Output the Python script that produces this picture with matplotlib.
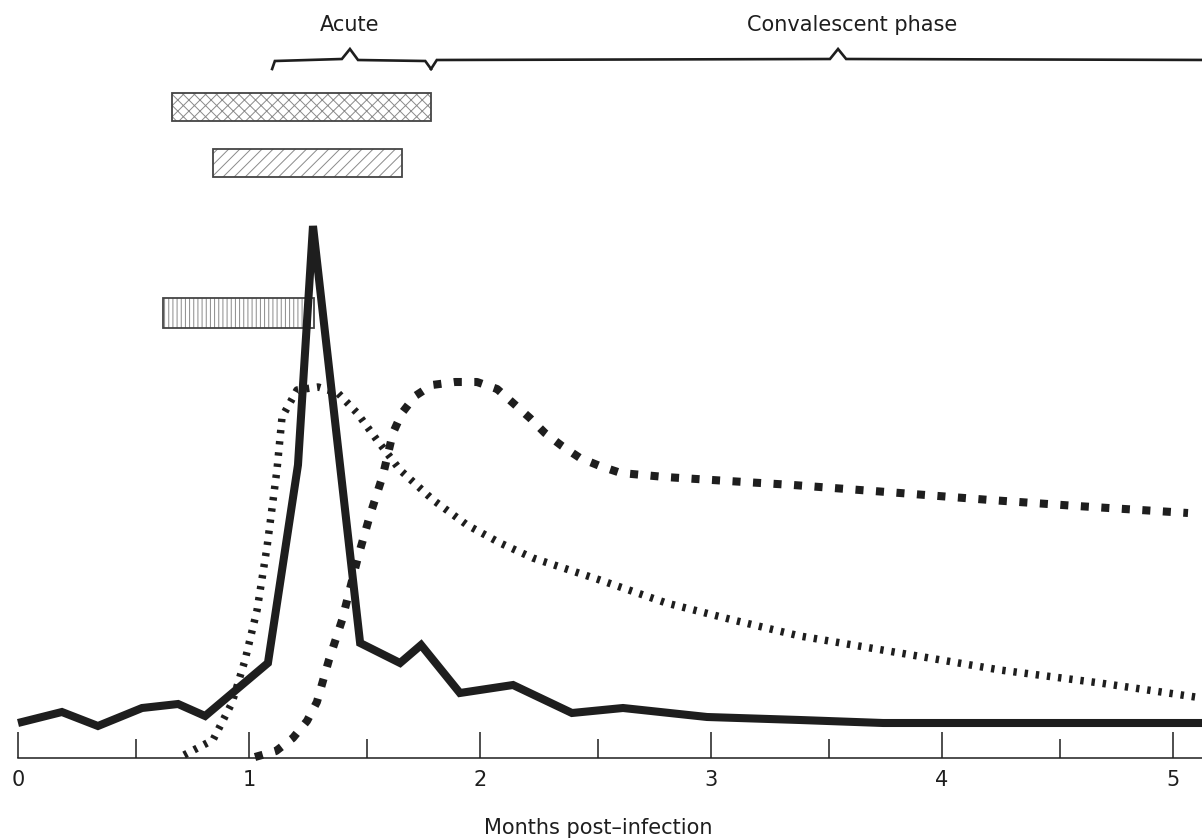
import matplotlib
matplotlib.use('Agg')
import matplotlib.pyplot as plt
from matplotlib.patches import Rectangle

# x = months post-infection, y = relative level (arbitrary units above the axis)
solid_x = [0, 0.19, 0.346, 0.537, 0.693, 0.81, 1.082, 1.212, 1.277, 1.481, 1.654,
           1.745, 1.913, 2.143, 2.398, 2.619, 2.983, 3.385, 3.745, 5.2]
solid_y = [35, 46, 32, 50, 54, 42, 95, 293, 532, 115, 95, 113, 65, 73, 45, 50, 41, 38, 35, 35]

dotted_x = [0.719, 0.844, 0.926, 0.983, 1.035, 1.078, 1.121, 1.143, 1.208, 1.299, 1.385,
            1.468, 1.554, 1.654, 1.797, 1.944, 2.087, 2.229, 2.519, 2.807, 3.095, 3.385,
            3.818, 4.251, 4.684, 5.126]
dotted_y = [3, 18, 55, 98, 148, 211, 288, 341, 368, 371, 365, 345, 318, 288, 258, 233,
            215, 200, 178, 155, 138, 122, 105, 88, 75, 60]

dashed_x = [1.026, 1.117, 1.190, 1.251, 1.294, 1.346, 1.403, 1.472, 1.524, 1.580, 1.623,
            1.662, 1.719, 1.792, 1.892, 1.987, 2.074, 2.143, 2.216, 2.281, 2.355, 2.433,
            2.519, 2.610, 2.801, 3.074, 3.355, 3.818, 4.208, 4.584, 5.065]
dashed_y = [1, 7, 20, 37, 56, 98, 138, 201, 243, 283, 325, 345, 362, 373, 376, 376, 369,
            355, 340, 325, 312, 300, 292, 285, 281, 277, 273, 265, 258, 252, 245]

# hatched duration bars
bar_start = [0.667, 0.844, 0.628]
bar_end = [1.788, 1.662, 1.281]
bar_low = [637, 581, 430]
bar_high = [665, 609, 460]
bar_hatch = ['xxx', '///', '||||']

# phase braces
phase_labels = ['Acute', 'Convalescent phase']
phase_start = [1.10, 1.788]
phase_mid = [1.437, 3.55]
phase_end = [1.788, 5.2]
phase_label_x = [1.437, 3.61]

major_ticks = [0, 1, 2, 3, 4, 5]
minor_ticks = [0.51, 1.51, 2.51, 3.51, 4.51]

plt.rcParams['font.family'] = 'DejaVu Sans'
plt.rcParams['hatch.linewidth'] = 0.7
plt.rcParams['hatch.color'] = '#8a8a8a'

fig = plt.figure(figsize=(12.02, 8.39), dpi=100)
ax = fig.add_axes([0, 0, 1, 1])
ax.set_xlim(-18 / 231, 1184 / 231)
ax.set_ylim(-81, 758)

ink = '#1e1e1e'

ax.plot(solid_x, solid_y, color=ink, lw=5.8, solid_joinstyle='miter', solid_capstyle='butt')
ax.plot(dotted_x, dotted_y, color=ink, lw=5.4, linestyle=(0, (0.45, 1.05)), dash_capstyle='butt')
ax.plot(dashed_x, dashed_y, color=ink, lw=5.8, linestyle=(0, (1.0, 1.55)), dash_capstyle='butt')

for s, e, lo, hi, h in zip(bar_start, bar_end, bar_low, bar_high, bar_hatch):
    ax.add_patch(Rectangle((s, lo), e - s, hi - lo, facecolor='white', edgecolor='#8a8a8a',
                           hatch=h, lw=0))
    ax.add_patch(Rectangle((s, lo), e - s, hi - lo, fill=False, edgecolor='#444444', lw=1.3))

# braces over the phases
bx = [phase_start[0], phase_start[0] + 0.012, phase_mid[0] - 0.035, phase_mid[0],
      phase_mid[0] + 0.035, phase_end[0] - 0.025, phase_end[0]]
by = [689, 697, 699, 709, 698, 697, 689]
ax.plot(bx, by, color=ink, lw=1.9, solid_joinstyle='miter')
bx = [phase_start[1], phase_start[1] + 0.025, phase_mid[1] - 0.035, phase_mid[1],
      phase_mid[1] + 0.035, phase_end[1]]
by = [689, 698, 699, 709, 699, 698]
ax.plot(bx, by, color=ink, lw=1.9, solid_joinstyle='miter')

for lab, x in zip(phase_labels, phase_label_x):
    ax.text(x, 733, lab, ha='center', va='center', fontsize=15, color=ink)

# axis
for side in ['left', 'right', 'top']:
    ax.spines[side].set_visible(False)
ax.spines['bottom'].set_position(('data', 0))
ax.spines['bottom'].set_bounds(0, 1184 / 231)
ax.spines['bottom'].set_linewidth(1.1)
ax.spines['bottom'].set_color(ink)
ax.set_yticks([])
ax.set_xticks(major_ticks)
ax.set_xticks(minor_ticks, minor=True)
ax.tick_params(axis='x', which='major', direction='in', length=19, width=1.1, color=ink,
               labelsize=15, pad=9, labelcolor=ink)
ax.tick_params(axis='x', which='minor', direction='in', length=13.5, width=1.1, color=ink)

fig.text(598 / 1202, 1 - 828 / 839, 'Months post\u2013infection', ha='center', va='center',
         fontsize=15, color=ink)

fig.savefig('out.png', dpi=100)
